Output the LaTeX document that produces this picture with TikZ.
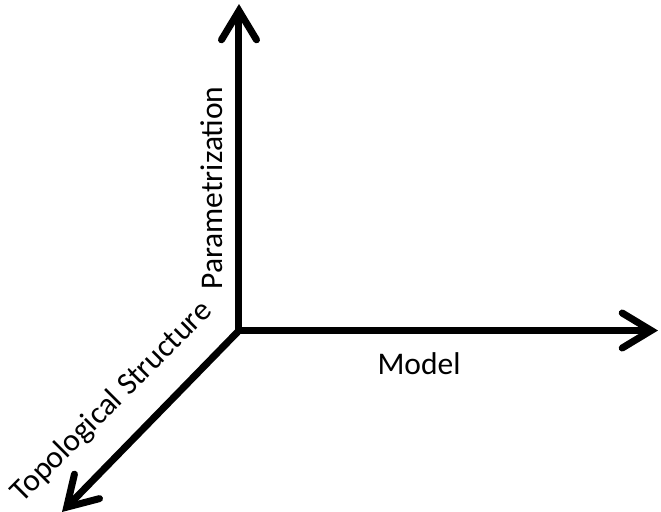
\documentclass[tikz,border=0pt]{standalone}
\usepackage{fontspec}
\setmainfont{Carlito}
\usetikzlibrary{arrows.meta}
\begin{document}
\begin{tikzpicture}[x=0.5pt,y=-0.5pt,font=\fontsize{15.75}{19}\selectfont,
	axis/.style={line width=3.5pt,-{Straight Barb[length=14.5pt,width=17.5pt,line cap=round]}}]
	\useasboundingbox (0,0) rectangle (661,511);
	\coordinate (O) at (239,330.5);
	\coordinate (P) at (239,4);
	\coordinate (M) at (658,330.5);
	\coordinate (T) at (62,512);
	\draw[axis] (O)--(P);
	\draw[axis] (O)--(M);
	\draw[axis] (O)--(T);
	\node[rotate=90,anchor=base] (par) at (222.5,188) {Parametrization};
	\node[anchor=base] (mod) at (419,374) {Model};
	\node[rotate=45,anchor=base] (top) at (118,408) {Topological Structure};
\end{tikzpicture}
\end{document}
